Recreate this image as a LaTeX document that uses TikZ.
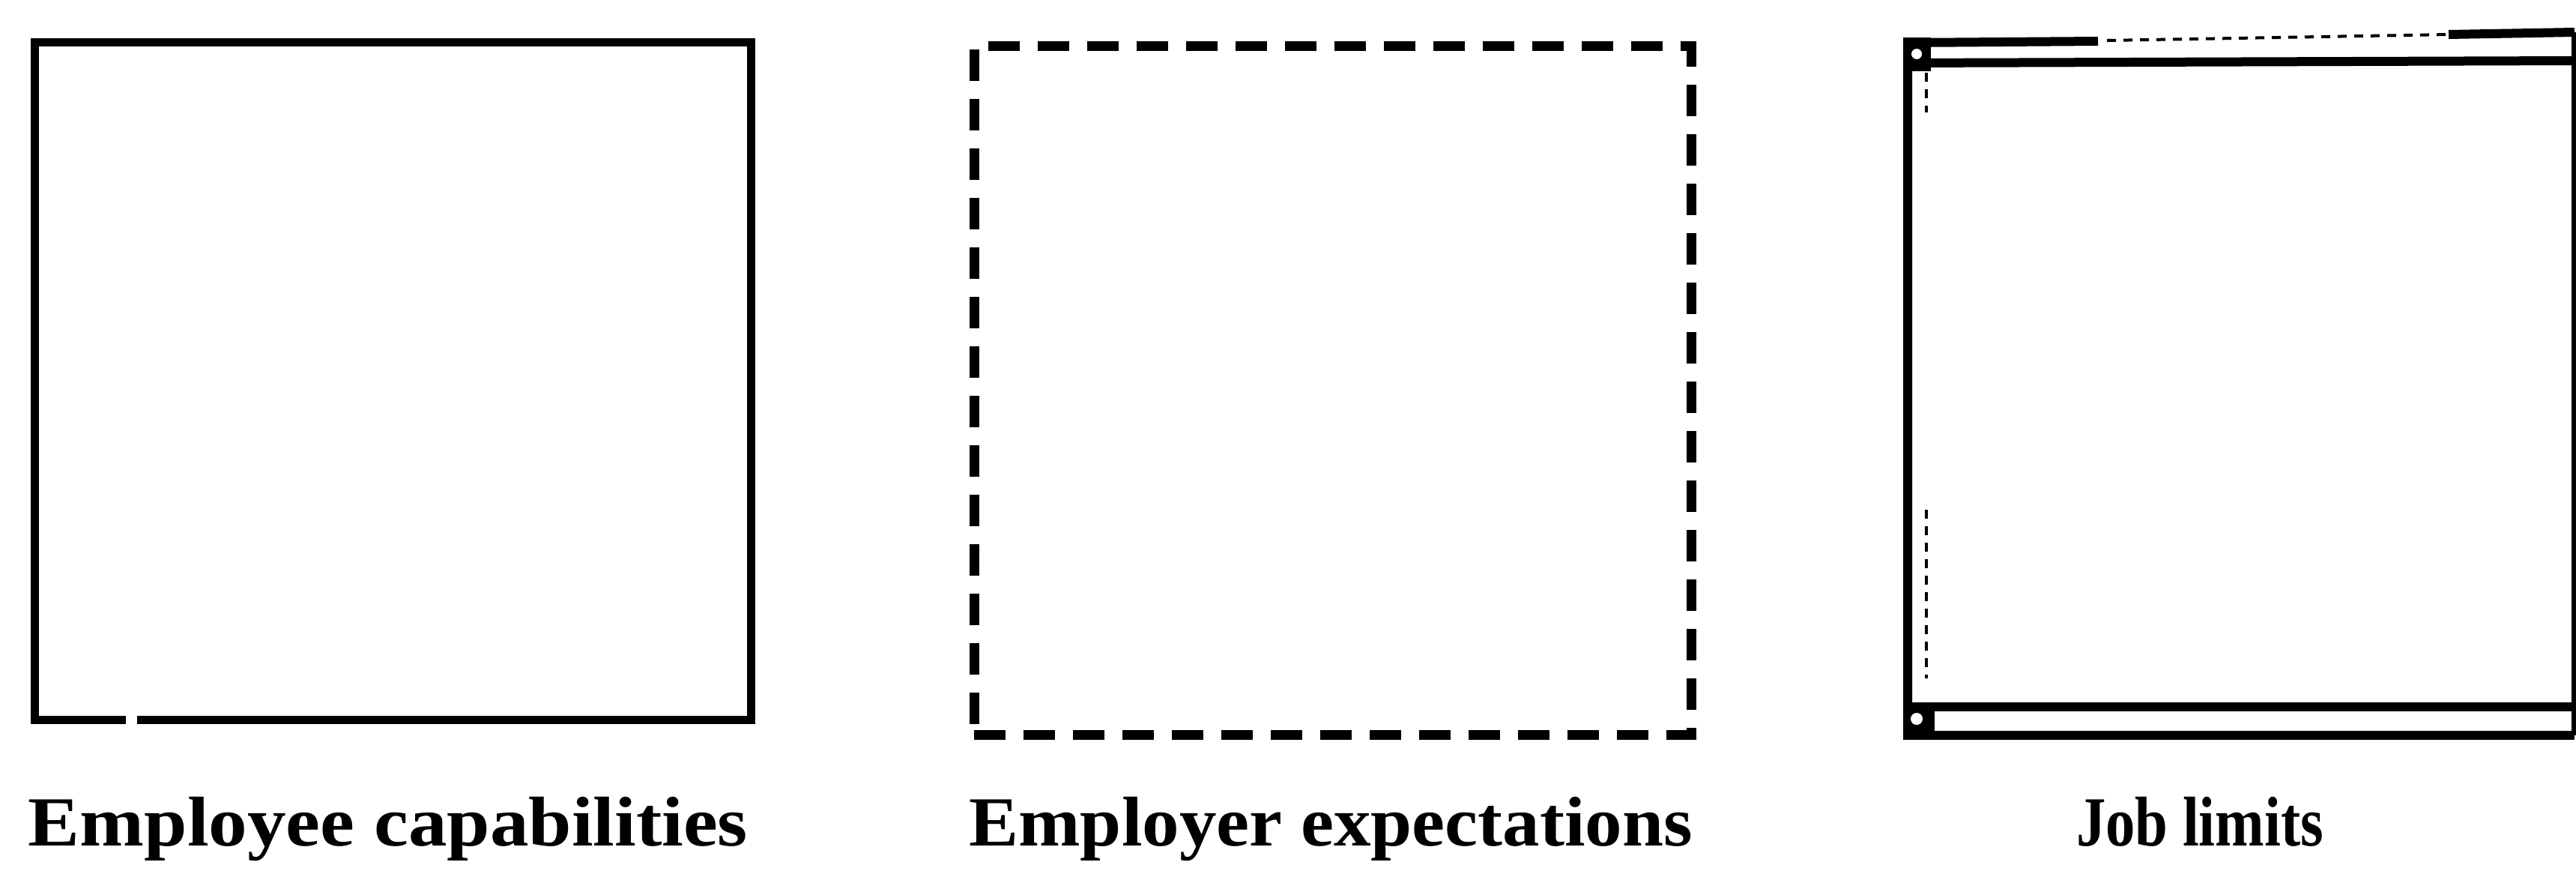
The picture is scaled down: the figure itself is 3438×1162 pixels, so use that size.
\documentclass[tikz,border=0pt]{standalone}
\usepackage{fontspec}
\setmainfont{Liberation Serif}
\usepackage{graphicx}
\begin{document}
\begin{tikzpicture}[x=1pt,y=-1pt,
  lbl/.style={anchor=base, inner sep=0pt, font=\fontsize{94}{100}\selectfont\bfseries},
  solidframe/.style={draw=black, line width=11pt},
  dashframe/.style={draw=black, line width=13pt, dash pattern=on 42pt off 24pt},
  jobline/.style={draw=black, line width=12pt},
  faintline/.style={draw=black, line width=4pt, dash pattern=on 12pt off 10pt}]
\useasboundingbox (0,0) rectangle (3438,1162);
\fill[white] (0,0) rectangle (3438,1162);

% Box 1: employee capabilities (solid, small gap in bottom edge)
\coordinate (b1gapL) at (168,960);
\coordinate (b1gapR) at (183,960);
\draw[solidframe] (b1gapL) -| (46,56) -| (1002,960) -- (b1gapR);

% Box 2: employer expectations (dashed)
\node[dashframe, minimum width=957pt, minimum height=919pt, inner sep=0pt] (box2) at (1778.5,520.5) {};

% Box 3: job limits (double horizontal edges)
\draw[jobline] (2546,981) -- (2546,57) -- (2800,55);
\draw[faintline] (2812,54) -- (3268,46);
\draw[jobline] (3268,46) -- (3436,43);
\draw[draw=black, line width=8pt] (3436,43) -- (3436,981);
\draw[jobline] (2546,84) -- (3436,81);
\draw[jobline] (2546,943) -- (3436,943);
\draw[jobline] (2546,981) -- (3436,981);
\fill[black] (2540,50) rectangle (2577,95);
\fill[white] (2558,72) circle (7);
\fill[black] (2540,938) rectangle (2582,987);
\fill[white] (2558,959) circle (8);
\draw[faintline] (2571,97) -- (2571,150);
\draw[faintline] (2571,680) -- (2571,905);

% Labels
\node[lbl] (lab1) at (518,1128) {\resizebox{960pt}{\height}{Employee capabilities}};
\node[lbl] (lab2) at (1776,1128) {\resizebox{965pt}{\height}{Employer expectations}};
\node[lbl] (lab3) at (2936,1128) {\resizebox{330pt}{\height}{Job limits}};
\end{tikzpicture}
\end{document}
